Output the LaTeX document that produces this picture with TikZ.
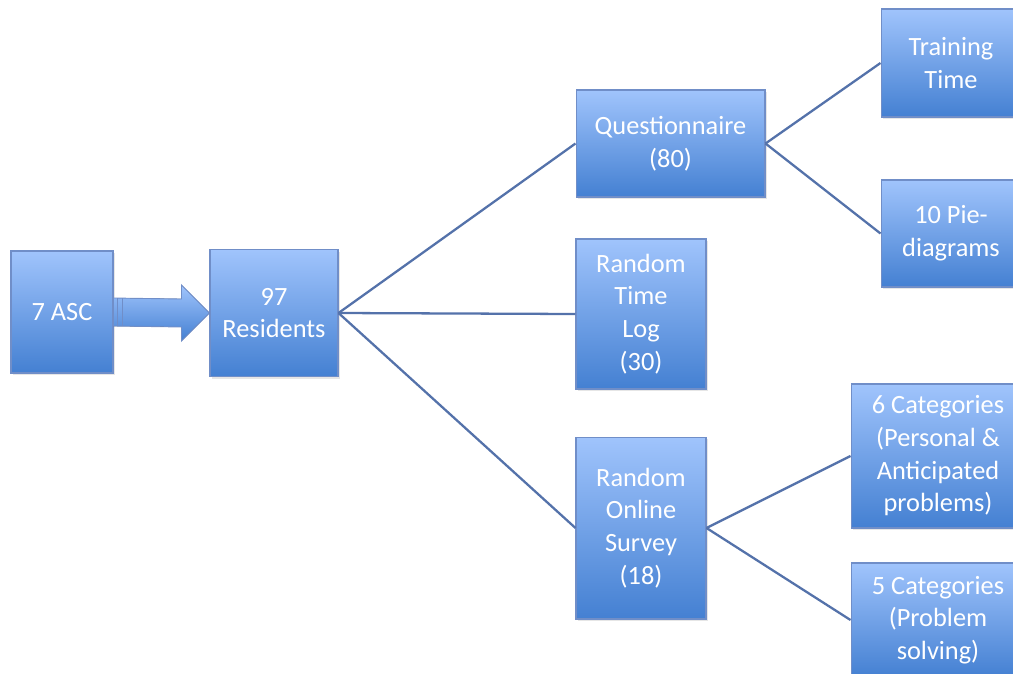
\documentclass[tikz,border=0pt]{standalone}
\usepackage{fontspec}
\setmainfont{Carlito}
\usetikzlibrary{calc,shadows}
\definecolor{boxtop}{RGB}{160,196,252}
\definecolor{boxbot}{RGB}{68,128,210}
\definecolor{boxline}{RGB}{112,142,200}
\definecolor{linkcol}{RGB}{84,114,170}
\begin{document}
\begin{tikzpicture}[
    x=0.02cm, y=-0.02cm,
    stage/.style={draw=boxline, line width=0.6pt, top color=boxtop, bottom color=boxbot,
        text=white, align=center, inner sep=2pt, font=\fontsize{15}{18.6}\selectfont,
        drop shadow={opacity=0.2, shadow xshift=1pt, shadow yshift=-1.2pt}},
    link/.style={draw=linkcol, line width=1.3pt},
    blockarrow/.style={draw=boxline, line width=0.5pt, top color=boxtop, bottom color=boxbot}
]
    \useasboundingbox (0,0) rectangle (1013,673);

    % Sources
    \node[stage, minimum width=2.04cm, minimum height=2.44cm] (asc) at (62,312) {7 ASC};
    \node[stage, minimum width=2.56cm, minimum height=2.54cm] (res) at (274,313) {97\\Residents};

    % Big arrow
    \filldraw[blockarrow] ($(asc.east)+(0,-14)$) -- ($(res.west)+(-28,-14)$) -- ($(res.west)+(-28,-28)$)
        -- (res.west) -- ($(res.west)+(-28,28)$) -- ($(res.west)+(-28,14)$) -- ($(asc.east)+(0,14)$) -- cycle;
    \draw[boxline, line width=0.5pt] ($(asc.east)+(4,-14)$) -- ($(asc.east)+(4,14)$);
    \draw[boxline, line width=0.5pt] ($(asc.east)+(9,-14)$) -- ($(asc.east)+(9,14)$);

    % Methods
    \node[stage, minimum width=3.78cm, minimum height=2.14cm] (quest) at (670.5,143.5) {Questionnaire\\(80)};
    \node[stage, minimum width=2.6cm, minimum height=3.0cm] (tlog) at (641,314) {Random\\Time\\Log\\(30)};
    \node[stage, minimum width=2.6cm, minimum height=3.64cm] (survey) at (641,528) {Random\\Online\\Survey\\(18)};

    % Results
    \node[stage, minimum width=2.8cm, minimum height=2.16cm] (train) at (951,63) {Training\\Time};
    \node[stage, minimum width=2.8cm, minimum height=2.14cm] (pie) at (951,233.5) {10 Pie-\\diagrams};
    \node[stage, minimum width=3.48cm, minimum height=2.88cm] (cat6) at (938,456) {6 Categories\\(Personal \&\\Anticipated\\problems)};
    \node[stage, minimum width=3.48cm, minimum height=2.28cm] (cat5) at (938,620) {5 Categories\\(Problem\\solving)};

    % Links
    \draw[link] (res.east) -- (quest.west);
    \draw[link] (res.east) -- (tlog.west);
    \draw[link] (res.east) -- (survey.west);
    \draw[link] (quest.east) -- (train.west);
    \draw[link] (quest.east) -- (pie.west);
    \draw[link] (survey.east) -- (cat6.west);
    \draw[link] (survey.east) -- (cat5.west);
\end{tikzpicture}
\end{document}
